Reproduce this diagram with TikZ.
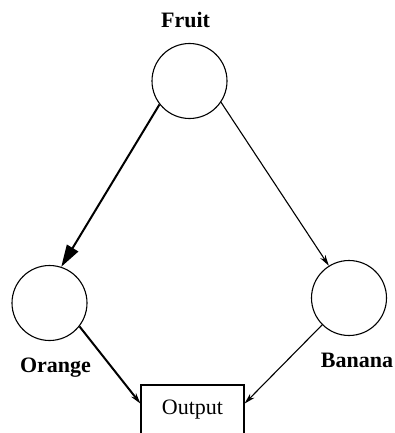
\documentclass[tikz,border=0pt]{standalone}
\usepackage{fontspec}
\setmainfont{Liberation Serif}
\usetikzlibrary{arrows.meta}

\begin{document}
\begin{tikzpicture}[x=1pt,y=-1pt,
  unit/.style={draw,circle,minimum size=75pt,inner sep=0pt,line width=1.1pt},
  lab/.style={anchor=base,font=\bfseries\fontsize{22}{26}\selectfont},
  strong/.style={line width=2pt,-{Triangle[length=22pt,width=13pt]}},
  weak/.style={line width=1.1pt,-{Stealth[length=11pt,width=6pt]}}]
\useasboundingbox (0,0) rectangle (394,433);
\clip (0,0) rectangle (394,433);
\node[unit] (fruit) at (189.5,81) {};
\node[unit] (orange) at (49.5,303) {};
\node[unit] (banana) at (349,298) {};
\node[lab] (lfruit) at (185.5,27.3) {Fruit};
\node[lab] (lorange) at (55.5,372) {Orange};
\node[lab] (lbanana) at (357,367) {Banana};
\node[draw,line width=1.1pt,minimum width=103pt,minimum height=50pt,
  font=\fontsize{22}{26}\selectfont] (output) at (192.5,410) {Output};
\draw[strong] (fruit.218)--(orange.72);
\draw[weak] (fruit.326)--(banana.122);
\draw[weak,line width=2pt] (orange.322)--(output.173);
\draw[weak] (banana.225)--(output.7);
\end{tikzpicture}
\end{document}
